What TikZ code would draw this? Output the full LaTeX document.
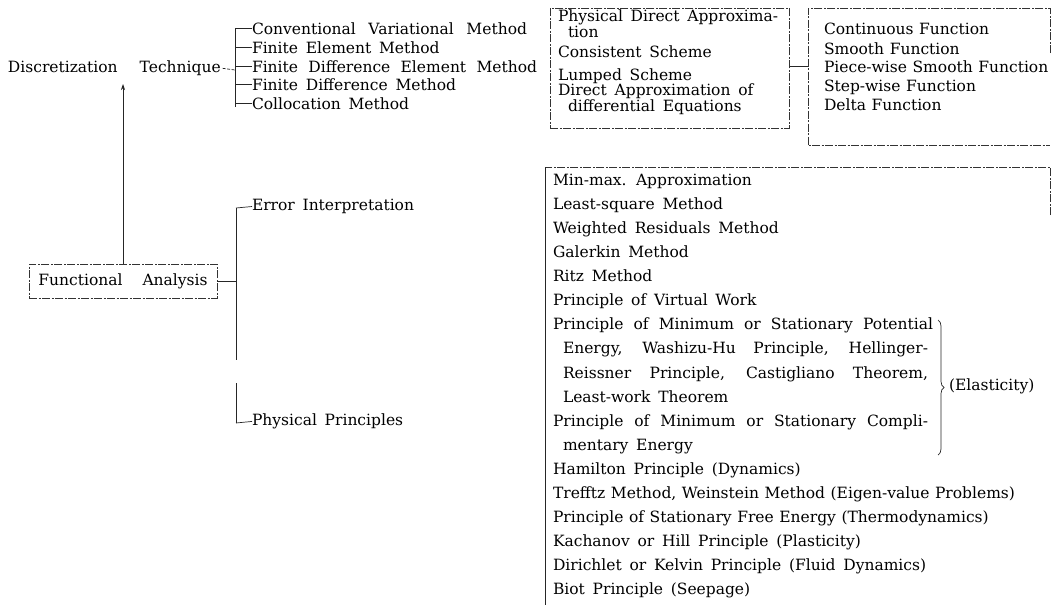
\documentclass[tikz,border=0pt]{standalone}
\usepackage{fontspec}
\setmainfont{DejaVu Serif}
\usetikzlibrary{arrows.meta,decorations.pathreplacing,calc}
\begin{document}
\begin{tikzpicture}[x=1pt,y=-1pt,
  fnt/.style={font={\fontsize{15.5}{18}\selectfont\spaceskip=0.5em plus 1em minus 0.1em\relax}},
  txt/.style={fnt,anchor=mid west,inner sep=0pt,outer sep=0pt},
  ntxt/.style={txt,font={\fontsize{15.5}{18}\selectfont\spaceskip=0.36em plus 0.5em minus 0.1em\relax}},
  frame/.style={draw=black!80,line width=0.7pt,dash pattern=on 8pt off 1.5pt on 2pt off 1.5pt},
  wire/.style={draw=black!85,line width=0.7pt},
  dwire/.style={wire,dash pattern=on 3pt off 1.5pt},
]
\useasboundingbox[fill=white] (0,0) rectangle (1051,605);

% ---- Discretization technique branch
\node[txt] (disc) at (8,70) {Discretization\hspace{22pt}Technique};
\coordinate (br1) at (235,70);
\coordinate (br1top) at (235,28);
\coordinate (br1bot) at (235,107);
\draw[dwire] ([xshift=2pt]disc.east) -- (br1);
\draw[wire] (br1top) -- (br1bot);
\node[txt] (cvm) at (252,32) {\makebox[275pt][s]{Conventional Variational Method}};
\node[txt] (fem) at (252,51) {Finite Element Method};
\node[txt] (fdem) at (252,70) {\makebox[285pt][s]{Finite Difference Element Method}};
\node[txt] (fdm) at (252,88) {Finite Difference Method};
\node[txt] (col) at (252,107) {Collocation Method};
\foreach \n in {cvm,fem,fdem,fdm,col}
  \draw[wire] (br1top |- \n.west) -- (\n.west);

% ---- box of schemes
\node[frame,anchor=north west,minimum width=239pt,minimum height=120pt,inner sep=0pt] (box2) at (550,8) {};
\node[txt] (p1) at (558,19) {Physical Direct Approxima-};
\node[txt] (p2) at (568,35) {tion};
\node[txt] (p3) at (558,55) {Consistent Scheme};
\node[txt] (p4) at (558,78) {Lumped Scheme};
\node[txt] (p5) at (558,93) {Direct Approximation of};
\node[txt] (p6) at (568,109) {differential Equations};

% ---- box of functions
\node[anchor=north west,minimum width=242pt,minimum height=137pt,inner sep=0pt] (box3) at (808,8) {};
\draw[frame] ($(box3.north east)+(0,45)$) -- (box3.north east) -- (box3.north west) -- (box3.south west) -- (box3.south east);
\node[ntxt] (f1) at (824,32) {Continuous Function};
\node[ntxt] (f2) at (824,52) {Smooth Function};
\node[ntxt] (f3) at (824,70) {Piece-wise Smooth Function};
\node[ntxt] (f4) at (824,89) {Step-wise Function};
\node[ntxt] (f5) at (824,108) {Delta Function};
\draw[wire] (box2.east |- f3.west) -- (box3.west |- f3.west);

% ---- functional analysis
\node[fnt,frame,minimum width=188pt,minimum height=34pt,inner sep=0pt] (fa) at (123,281) {Functional\hspace{20pt}Analysis};
\coordinate (tip) at (123,84);
\draw[wire,-{Stealth[length=6pt,width=4pt]}] (fa.north) -- (tip);

\coordinate (b2top) at (236,208);
\coordinate (b2a) at (236,360);
\coordinate (b2b) at (236,383);
\coordinate (b2bot) at (236,423);
\draw[wire] (fa.east) -- (fa.east -| b2top);
\draw[wire] (b2top) -- (b2a);
\draw[wire] (b2b) -- (b2bot);
\node[txt] (ei) at (252,208) {Error Interpretation};
\node[txt] (pp) at (252,423) {Physical Principles};
\draw[wire] (b2top) -- (ei.west);
\draw[wire] (b2bot) -- (pp.west);

% ---- big list
\coordinate (bbA) at (1050,215);
\coordinate (bbB) at (1050,167);
\coordinate (bbC) at (545,167);
\coordinate (bbD) at (545,605);
\draw[frame] (bbA) -- (bbB) -- (bbC);
\draw[wire] (bbC) -- (bbD);

\node[txt] (l0) at (553,183) {Min-max. Approximation};
\node[txt] (l1) at (553,207.05) {Least-square Method};
\node[txt] (l2) at (553,231.1) {Weighted Residuals Method};
\node[txt] (l3) at (553,255.15) {Galerkin Method};
\node[txt] (l4) at (553,279.2) {Ritz Method};
\node[txt] (l5) at (553,303.25) {Principle of Virtual Work};
\node[txt] (l6) at (553,327.3) {\makebox[380pt][s]{Principle of Minimum or Stationary Potential}};
\node[txt] (l7) at (563,351.35) {\makebox[365pt][s]{Energy, Washizu-Hu Principle, Hellinger-}};
\node[txt] (l8) at (563,375.4) {\makebox[365pt][s]{Reissner Principle, Castigliano Theorem,}};
\node[txt] (l9) at (563,399.45) {Least-work Theorem};
\node[txt] (l10) at (553,423.5) {\makebox[375pt][s]{Principle of Minimum or Stationary Compli-}};
\node[txt] (l11) at (563,447.55) {mentary Energy};
\node[txt] (l12) at (553,471.6) {Hamilton Principle (Dynamics)};
\node[ntxt] (l13) at (553,495.65) {Trefftz Method, Weinstein Method (Eigen-value Problems)};
\node[ntxt] (l14) at (553,519.7) {Principle of Stationary Free Energy (Thermodynamics)};
\node[txt] (l15) at (553,543.75) {Kachanov or Hill Principle (Plasticity)};
\node[txt] (l16) at (553,567.8) {Dirichlet or Kelvin Principle (Fluid Dynamics)};
\node[txt] (l17) at (553,591.85) {Biot Principle (Seepage)};

\coordinate (brT) at (938,320);
\coordinate (brB) at (938,455);
\draw[wire,decorate,decoration={brace,amplitude=6pt}] (brT) -- (brB);
\node[txt] (ela) at (949,387.5) {(Elasticity)};
\end{tikzpicture}
\end{document}
